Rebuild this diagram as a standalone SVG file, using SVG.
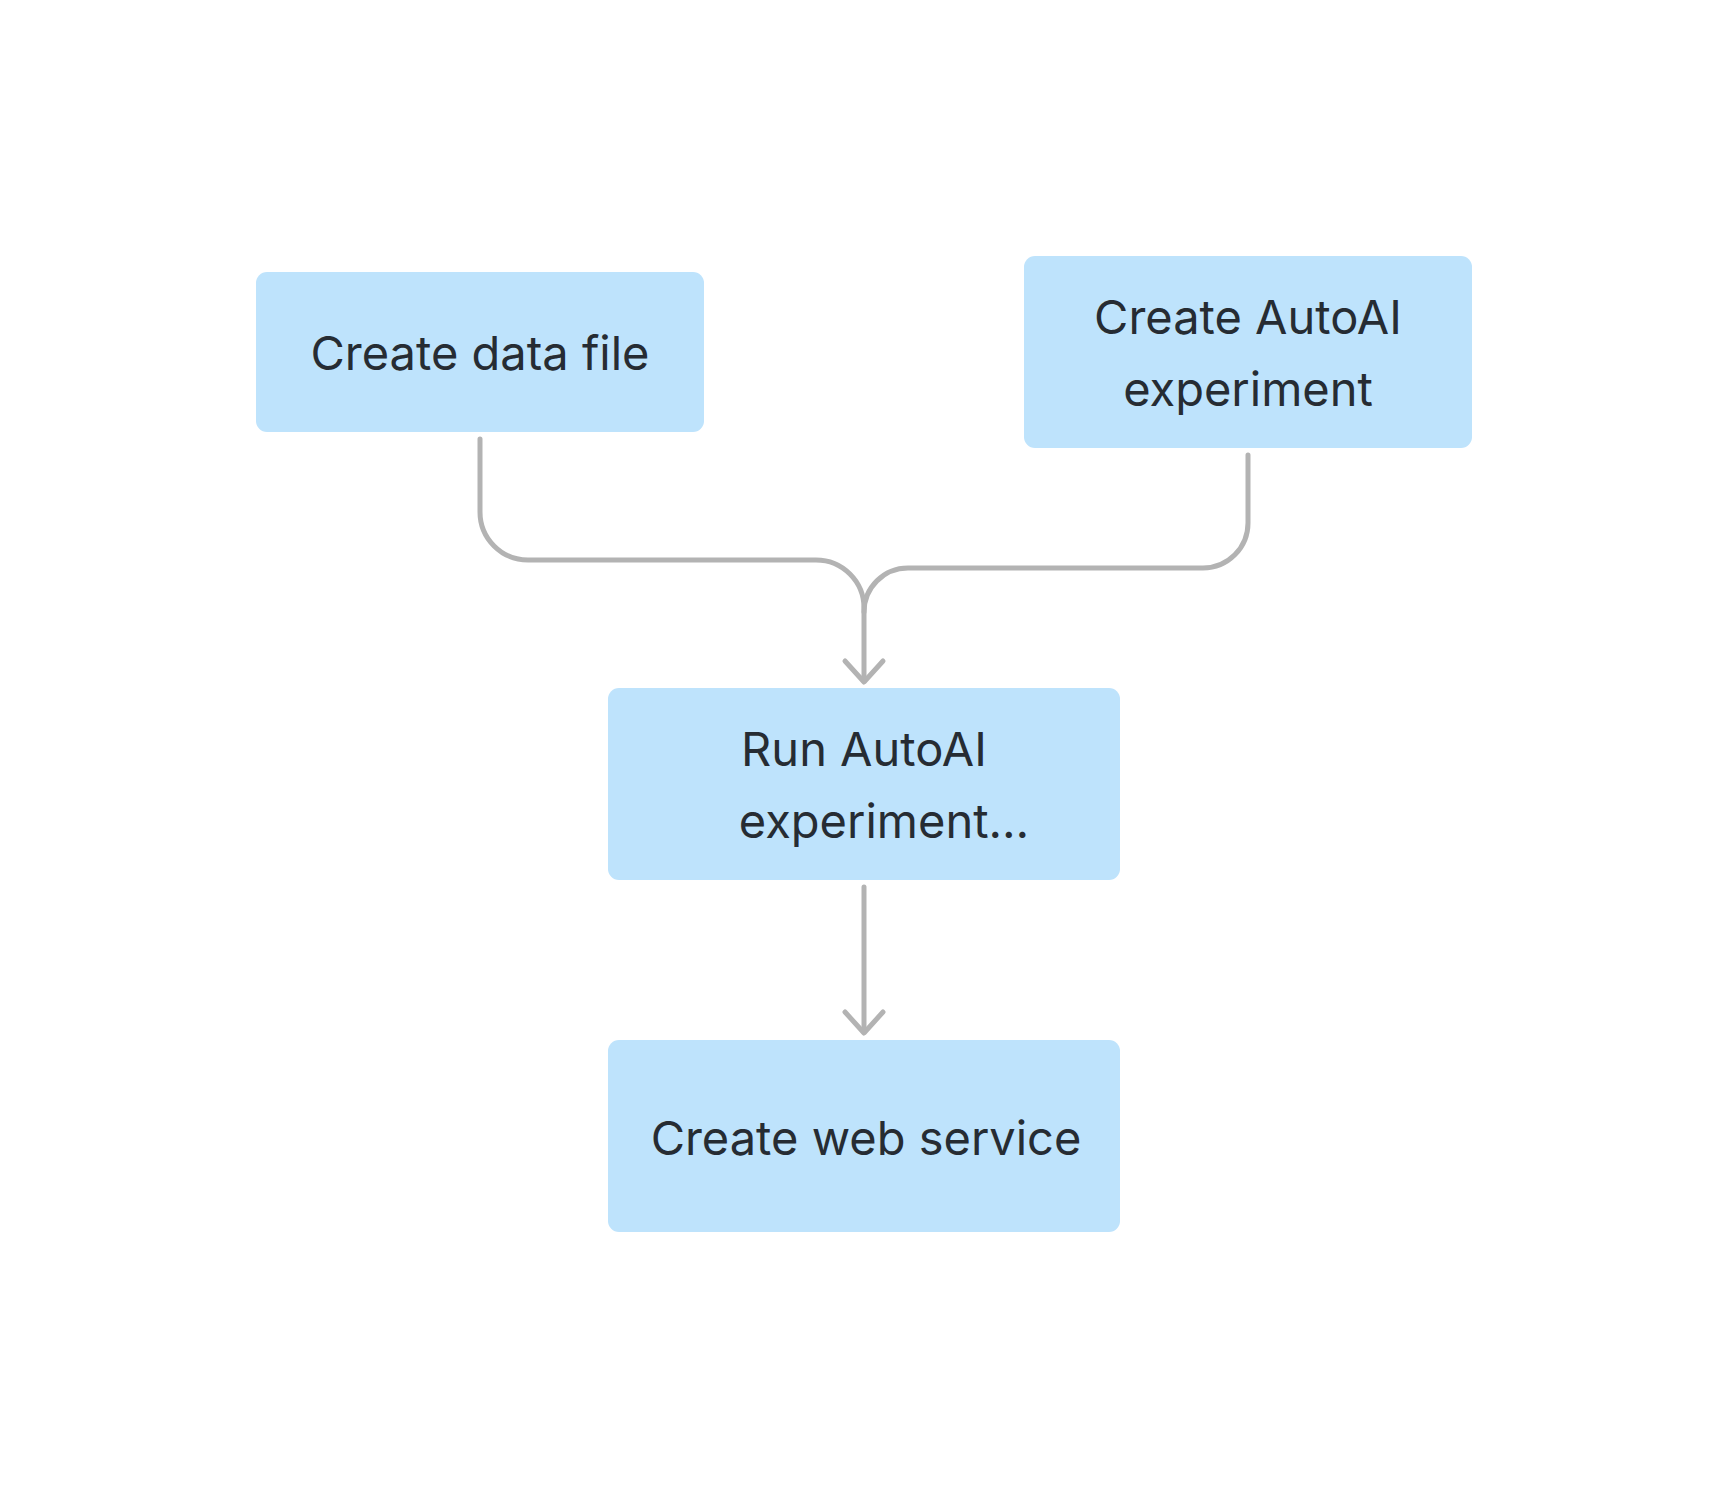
<svg xmlns="http://www.w3.org/2000/svg" width="1728" height="1488" viewBox="0 0 1728 1488">
<style>
.box{fill:#bee3fc}
.lbl{font-family:Inter,"Noto Sans","Liberation Sans",sans-serif;font-size:47px;fill:#262c33;text-anchor:middle}
.conn{fill:none;stroke:#b3b3b3;stroke-width:5;stroke-linecap:round;stroke-linejoin:round}
</style>
<rect width="1728" height="1488" fill="#ffffff"/>
<g id="connectors">
<path class="conn" d="M480 439 V512 A48 48 0 0 0 528 560 H816 A48 48 0 0 1 864 608 V681"/>
<path class="conn" d="M1248 455 V523 A45 45 0 0 1 1203 568 H908 A44 44 0 0 0 864 612"/>
<polyline class="conn" points="845,661 864,682 883,661"/>
<path class="conn" d="M864 887 V1032"/>
<polyline class="conn" points="845,1012 864,1033 883,1012"/>
</g>
<g id="node-data-file">
<rect class="box" x="256" y="272" width="448" height="160" rx="11"/>
<text class="lbl" x="480" y="370">Create data file</text>
</g>
<g id="node-create-autoai">
<rect class="box" x="1024" y="256" width="448" height="192" rx="11"/>
<text class="lbl" x="1248" y="334">Create AutoAI</text>
<text class="lbl" x="1248" y="406">experiment</text>
</g>
<g id="node-run-autoai">
<rect class="box" x="608" y="688" width="512" height="192" rx="11"/>
<text class="lbl" x="864" y="766">Run AutoAI</text>
<text class="lbl" x="884" y="838">experiment…</text>
</g>
<g id="node-web-service">
<rect class="box" x="608" y="1040" width="512" height="192" rx="11"/>
<text class="lbl" x="866" y="1155">Create web service</text>
</g>
</svg>
